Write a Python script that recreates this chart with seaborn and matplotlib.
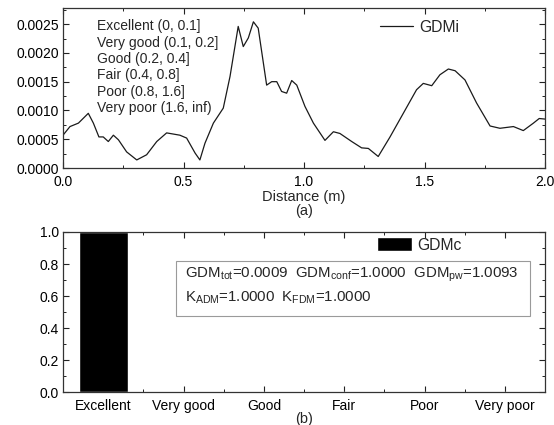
import matplotlib
matplotlib.use("Agg")
import matplotlib.pyplot as plt
import seaborn as sns
import pandas as pd
from matplotlib.ticker import MultipleLocator, FormatStrFormatter
from matplotlib.patches import Rectangle

# ---- data ----
distance = [0.0, 0.029, 0.064, 0.105, 0.126, 0.149, 0.167, 0.188, 0.209, 0.23,
            0.264, 0.306, 0.347, 0.389, 0.43, 0.485, 0.513, 0.548, 0.568, 0.589,
            0.624, 0.665, 0.693, 0.727, 0.748, 0.769, 0.79, 0.81, 0.845, 0.866,
            0.887, 0.907, 0.928, 0.949, 0.97, 1.004, 1.039, 1.087, 1.122, 1.149,
            1.198, 1.239, 1.267, 1.308, 1.357, 1.412, 1.467, 1.495, 1.53, 1.564,
            1.599, 1.627, 1.668, 1.716, 1.772, 1.813, 1.869, 1.91, 1.952, 1.976, 2.0]
gdmi = [0.00057, 0.00072, 0.00078, 0.00095, 0.00078, 0.00054, 0.00054, 0.00046, 0.00057, 0.00049,
        0.00028, 0.00014, 0.00023, 0.00046, 0.00061, 0.00057, 0.00052, 0.00026, 0.00014, 0.00043,
        0.00078, 0.00104, 0.00159, 0.00246, 0.00211, 0.00226, 0.00254, 0.00243, 0.00144, 0.0015,
        0.0015, 0.00133, 0.0013, 0.00152, 0.00144, 0.00107, 0.00078, 0.00048, 0.00063, 0.0006,
        0.00046, 0.00035, 0.00034, 0.0002, 0.00054, 0.00095, 0.00136, 0.00147, 0.00143, 0.00162,
        0.00172, 0.00169, 0.00153, 0.00113, 0.00073, 0.00069, 0.00072, 0.00065, 0.00078, 0.00086, 0.00085]

categories = ["Excellent", "Very good", "Good", "Fair", "Poor", "Very poor"]
gdmc = [1.0, 0.0, 0.0, 0.0, 0.0, 0.0]

class_labels = ["Excellent (0, 0.1]", "Very good (0.1, 0.2]", "Good (0.2, 0.4]",
                "Fair (0.4, 0.8]", "Poor (0.8, 1.6]", "Very poor (1.6, inf)"]
stats_line1 = r"GDM$_{\mathregular{tot}}$=0.0009  GDM$_{\mathregular{conf}}$=1.0000  GDM$_{\mathregular{pw}}$=1.0093"
stats_line2 = r"K$_{\mathregular{ADM}}$=1.0000  K$_{\mathregular{FDM}}$=1.0000"

sns.set_theme(style="ticks")
plt.rcParams["font.family"] = ["Liberation Sans", "DejaVu Sans"]
plt.rcParams["mathtext.fontset"] = "custom"
plt.rcParams["mathtext.rm"] = "Liberation Sans"
plt.rcParams["mathtext.it"] = "Liberation Sans"
plt.rcParams["mathtext.default"] = "regular"

tick_fs = 10
fig = plt.figure(figsize=(5.54, 4.25), dpi=100)
ax1 = fig.add_axes([63/554, 1-168/425, (545-63)/554, (168-8)/425])
ax2 = fig.add_axes([63/554, 1-392/425, (545-63)/554, (392-232)/425])

df1 = pd.DataFrame({"Distance": distance, "GDMi": gdmi})
sns.lineplot(data=df1, x="Distance", y="GDMi", ax=ax1, color="#1a1a1a", lw=0.9,
             label="GDMi", sort=False)
ax1.set_xlim(0, 2.0)
ax1.set_ylim(0, 0.00278)
ax1.xaxis.set_major_locator(MultipleLocator(0.5))
ax1.xaxis.set_minor_locator(MultipleLocator(0.25))
ax1.yaxis.set_major_locator(MultipleLocator(0.0005))
ax1.yaxis.set_minor_locator(MultipleLocator(0.00025))
ax1.xaxis.set_major_formatter(FormatStrFormatter("%.1f"))
ax1.yaxis.set_major_formatter(FormatStrFormatter("%.4f"))
ax1.set_xlabel("Distance (m)", fontsize=10.5, labelpad=1)
ax1.set_ylabel("")
ax1.text(0.5, -0.27, "(a)", transform=ax1.transAxes, ha="center", va="center", fontsize=10.5)
ax1.legend(loc="center left", frameon=False, fontsize=11.3, handlelength=2.1,
           bbox_to_anchor=(0.658, 0.88), handletextpad=0.4, borderpad=0, borderaxespad=0)
ax1.text(0.07, 0.93, "\n".join(class_labels), transform=ax1.transAxes, ha="left", va="top",
         fontsize=10, linespacing=1.22)

df2 = pd.DataFrame({"Class": categories, "GDMc": gdmc})
sns.barplot(data=df2, x="Class", y="GDMc", ax=ax2, color="black", width=0.61,
            saturation=1, label="GDMc")
ax2.set_xlim(-0.5, 5.5)
ax2.set_ylim(0, 1.0)
ax2.yaxis.set_major_locator(MultipleLocator(0.2))
ax2.yaxis.set_minor_locator(MultipleLocator(0.1))
ax2.xaxis.set_minor_locator(MultipleLocator(0.5))
ax2.yaxis.set_major_formatter(FormatStrFormatter("%.1f"))
ax2.set_xlabel("")
ax2.set_ylabel("")
ax2.text(0.5, -0.17, "(b)", transform=ax2.transAxes, ha="center", va="center", fontsize=10.5)
ax2.legend(loc="center left", frameon=False, fontsize=11.3, handlelength=2.25,
           handleheight=1.0, bbox_to_anchor=(0.651, 0.919), handletextpad=0.3,
           borderpad=0, borderaxespad=0)
ax2.add_patch(Rectangle((0.234, 0.475), 0.735, 0.345, transform=ax2.transAxes,
                        fc="white", ec="#9a9a9a", lw=0.8, zorder=3))
ax2.text(0.253, 0.73, stats_line1, transform=ax2.transAxes, ha="left", va="center",
         fontsize=10.8, zorder=4)
ax2.text(0.253, 0.5875, stats_line2, transform=ax2.transAxes, ha="left", va="center",
         fontsize=10.8, zorder=4)

for ax in (ax1, ax2):
    for s in ax.spines.values():
        s.set_visible(True)
        s.set_color("#333333")
        s.set_linewidth(0.9)
    ax.tick_params(which="both", direction="in", top=True, right=True, labelsize=tick_fs,
                   colors="#222222", labelcolor="black")
    ax.tick_params(which="major", length=4, width=0.8, pad=3)
    ax.tick_params(which="minor", length=2.5, width=0.7)
    ax.grid(False)
ax1.tick_params(axis="x", which="major", pad=5)
ax2.tick_params(axis="x", which="major", pad=5)

fig.savefig("out.png", dpi=100, facecolor="white")
